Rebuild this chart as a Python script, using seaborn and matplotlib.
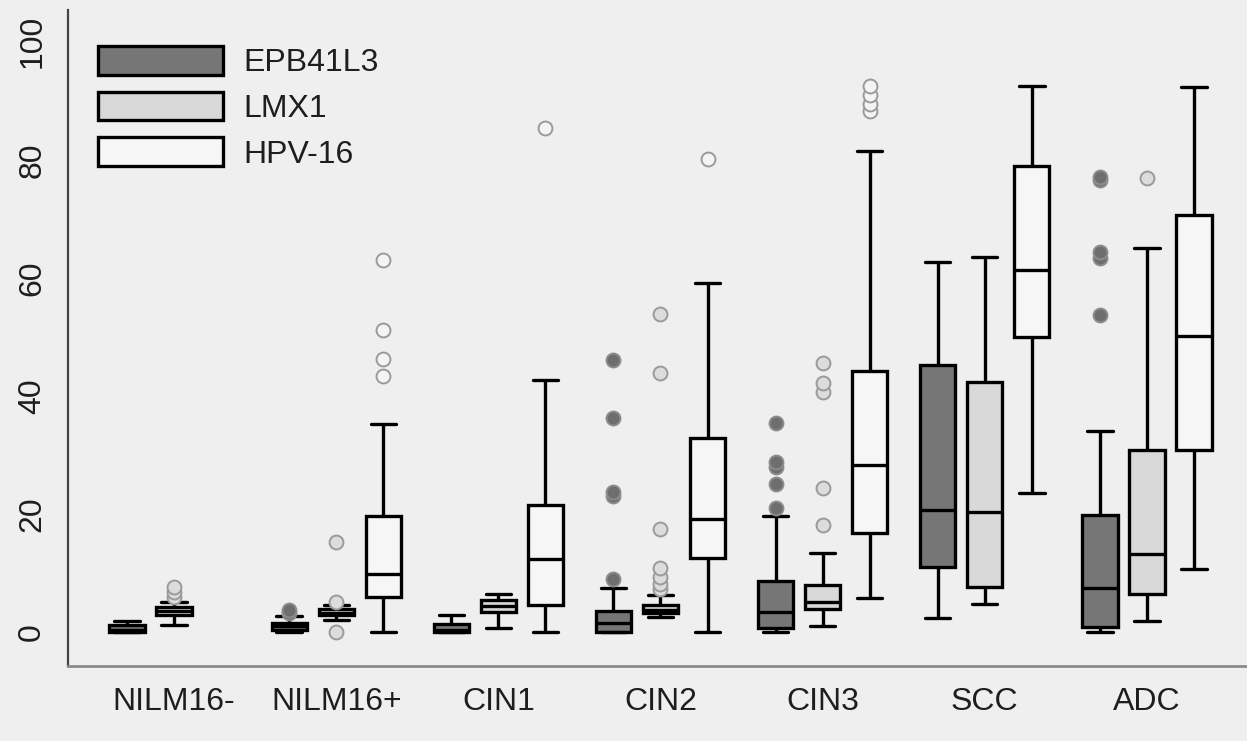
import numpy as np
import pandas as pd
import matplotlib
matplotlib.use("Agg")
import matplotlib.pyplot as plt
from matplotlib.patches import Patch
import seaborn as sns

GROUPS = ["NILM16-", "NILM16+", "CIN1", "CIN2", "CIN3", "SCC", "ADC"]
MARKERS = ["EPB41L3", "LMX1", "HPV-16"]
Y_TICKS = [0, 20, 40, 60, 80, 100]

# five-number summaries: [low whisker, q1, median, q3, high whisker]
EPB41L3_BOX = [
    [0.0, 0.0, 0.4, 1.2, 1.8],
    [0.0, 0.4, 1.0, 1.6, 2.7],
    [0.0, 0.0, 0.4, 1.3, 2.9],
    [0.0, 0.0, 1.6, 3.5, 7.4],
    [0.0, 0.6, 3.4, 8.6, 19.7],
    [2.3, 11.0, 20.7, 45.2, 62.6],
    [0.0, 0.9, 7.5, 19.9, 34.1],
]
LMX1_BOX = [
    [1.2, 2.9, 3.5, 4.2, 5.0],
    [2.1, 2.8, 3.3, 3.9, 4.6],
    [0.6, 3.4, 4.4, 5.4, 6.5],
    [2.6, 3.2, 3.8, 4.5, 6.3],
    [1.0, 3.9, 5.0, 8.0, 13.4],
    [4.7, 7.7, 20.3, 42.3, 63.5],
    [1.8, 6.4, 13.2, 30.9, 65.1],
]
HPV16_BOX = [
    None,
    [0.0, 6.0, 9.8, 19.6, 35.3],
    [0.0, 4.5, 12.4, 21.5, 42.7],
    [0.0, 12.6, 19.1, 32.9, 59.2],
    [5.7, 16.7, 28.3, 44.2, 81.5],
    [23.6, 50.0, 61.3, 78.9, 92.5],
    [10.6, 30.8, 50.2, 70.7, 92.3],
]

# outlying values per group
EPB41L3_OUT = [[], [3.3, 3.8], [], [9.0, 23.0, 23.8, 36.3, 46.0],
               [21.0, 25.0, 28.0, 28.8, 35.4], [], [53.7, 63.4, 64.4, 76.6, 77.0]]
LMX1_OUT = [[6.0, 6.7, 7.6], [0.0, 5.0, 15.2], [], [7.2, 8.2, 9.4, 10.8, 17.4, 43.8, 53.9],
            [18.1, 24.4, 40.6, 42.1, 45.6], [], [76.9]]
HPV16_OUT = [[], [43.3, 46.3, 51.2, 63.0], [85.4], [80.2], [88.3, 89.5, 91.0, 92.5], [], []]

FILL = {"EPB41L3": "#767676", "LMX1": "#d8d8d8", "HPV-16": "#f6f6f6"}
DOT_FILL = {"EPB41L3": "#6e6e6e", "LMX1": "#dcdcdc", "HPV-16": "#f4f4f4"}
DOT_EDGE = {"EPB41L3": "#8c8c8c", "LMX1": "#9a9a9a", "HPV-16": "#9a9a9a"}
BG = "#efefef"

BOX_WIDTH = 0.87
GAP = 0.25
LW = 2.4

boxes = {"EPB41L3": EPB41L3_BOX, "LMX1": LMX1_BOX, "HPV-16": HPV16_BOX}
outs = {"EPB41L3": EPB41L3_OUT, "LMX1": LMX1_OUT, "HPV-16": HPV16_OUT}

rows = []
for m in MARKERS:
    for g, five in zip(GROUPS, boxes[m]):
        if five is None:
            continue
        for v in five:
            rows.append({"group": g, "marker": m, "value": v})
box_df = pd.DataFrame(rows)

sns.set_style("white")
plt.rcParams["font.family"] = ["Liberation Sans", "DejaVu Sans"]

fig = plt.figure(figsize=(12.47, 7.41), dpi=100, facecolor=BG)
ax = fig.add_axes([68 / 1247, 1 - 666 / 741, 1 - 68 / 1247, (666 - 10) / 741])
ax.set_facecolor(BG)

sns.boxplot(data=box_df, x="group", y="value", hue="marker",
            order=GROUPS, hue_order=MARKERS, palette=FILL, saturation=1,
            whis=(0, 100), width=BOX_WIDTH, gap=GAP, linewidth=LW,
            linecolor="black", fliersize=0, legend=False, ax=ax)

# widen the whisker caps (seaborn draws them at half the box width)
slot = BOX_WIDTH / len(MARKERS)
box_w = slot * (1 - GAP)
for line in ax.lines:
    xd, yd = np.asarray(line.get_xdata(), float), np.asarray(line.get_ydata(), float)
    if len(xd) == 2 and yd[0] == yd[1] and 0 < abs(xd[1] - xd[0]) < 0.7 * box_w:
        mid = xd.mean()
        line.set_xdata([mid - 0.36 * box_w, mid + 0.36 * box_w])

# outliers, placed at the dodged box positions
for i, m in enumerate(MARKERS):
    xs, ys = [], []
    for gi, vals in enumerate(outs[m]):
        for v in vals:
            xs.append(gi + (i - 1) * slot)
            ys.append(v)
    if xs:
        sns.scatterplot(x=xs, y=ys, color=DOT_FILL[m], edgecolor=DOT_EDGE[m],
                        s=100, linewidth=1.4, zorder=4, legend=False, ax=ax)

ax.set_xlim(-0.654, 6.617)
ax.set_ylim(-5.76, 105.37)
ax.set_yticks(Y_TICKS)
ax.set_yticklabels([str(t) for t in Y_TICKS], rotation=90, va="center")
ax.set_xlabel("")
ax.set_ylabel("")

ax.tick_params(axis="y", length=9, width=1.4, color="#444444", pad=6,
               labelsize=23, labelcolor="#1e1e1e")
ax.tick_params(axis="x", length=0, pad=15, labelsize=23, labelcolor="#1e1e1e")

for side in ["top", "right"]:
    ax.spines[side].set_visible(False)
ax.spines["left"].set_color("#444444")
ax.spines["left"].set_linewidth(1.6)
ax.spines["bottom"].set_color("#8a8a8a")
ax.spines["bottom"].set_linewidth(2.0)

handles = [Patch(facecolor=FILL[m], edgecolor="black", linewidth=LW, label=m) for m in MARKERS]
ax.legend(handles=handles, loc="upper left", bbox_to_anchor=(98 / 1247, 1 - 46 / 741),
          bbox_transform=fig.transFigure, frameon=False, fontsize=23,
          handlelength=3.9, handleheight=1.0, handletextpad=0.65,
          labelspacing=0.42, borderpad=0, borderaxespad=0, labelcolor="#1e1e1e")

fig.savefig("out.png", dpi=100, facecolor=BG)
